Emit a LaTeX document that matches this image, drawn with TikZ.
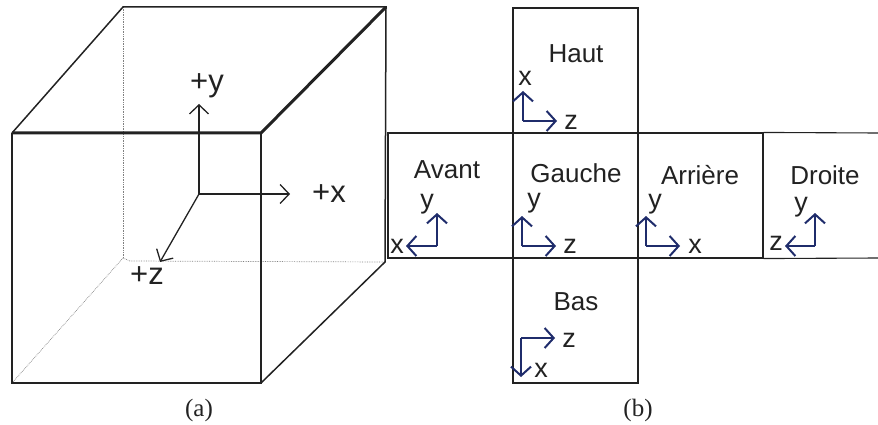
\documentclass[tikz,border=0pt]{standalone}
\usepackage{fontspec}
\setmainfont{Liberation Serif}
\setsansfont{Liberation Sans}
\usetikzlibrary{arrows.meta}
\definecolor{axisblue}{HTML}{1F2C6B}
\definecolor{inkgray}{HTML}{222222}

\begin{document}
\begin{tikzpicture}[
x=1pt, y=-1pt,
edge/.style={draw=inkgray, line width=1.5pt},
heavyedge/.style={draw=inkgray, line width=3pt},
hidden/.style={draw=gray, line width=0.7pt, densely dotted},
facebox/.style={draw=inkgray, line width=1.1pt, minimum size=125pt, inner sep=0pt},
facename/.style={font=\sffamily\fontsize{26}{26}\selectfont, text=inkgray, inner sep=0pt},
axisname/.style={font=\sffamily\fontsize{27}{27}\selectfont, text=inkgray, inner sep=0pt},
worldname/.style={font=\sffamily\fontsize{31}{31}\selectfont, text=inkgray, inner sep=0pt},
worldaxis/.style={draw=inkgray, line width=1.3pt, -{Straight Barb[length=9pt,width=19pt,line width=1.3pt]}},
localaxis/.style={draw=axisblue, line width=2pt, -{Straight Barb[length=9pt,width=20pt,line width=2pt]}},
caption/.style={font=\rmfamily\fontsize{25}{25}\selectfont, text=inkgray, inner sep=0pt},
]
\useasboundingbox (0,0) rectangle (878,425);

% cube
\coordinate (frontTL) at (12,133);
\coordinate (frontTR) at (261,133);
\coordinate (frontBL) at (12,383);
\coordinate (frontBR) at (261,383);
\coordinate (backTL) at (123,7);
\coordinate (backTR) at (386,7);
\coordinate (backBL) at (123,258);
\coordinate (backBR) at (385,262);

\draw[hidden] (backTL) -- (backBL);
\draw[hidden] (backBL) -- (frontBL);
\draw[hidden] (backBL) -- (130,261) -- (backBR);

\draw[edge] (frontTL) -- (frontBL) -- (frontBR) -- (frontTR);
\draw[edge] (frontTL) -- (backTL) -- (backTR) -- (backBR) -- (frontBR);
\draw[heavyedge] (frontTL) -- (frontTR) -- (backTR);

% world axes
\coordinate (origin) at (199,194);
\coordinate (tipY) at (199,104);
\coordinate (tipX) at (290,194);
\coordinate (tipZ) at (160,262);
\draw[worldaxis] (origin) -- (tipY);
\draw[worldaxis] (origin) -- (tipX);
\draw[worldaxis] (origin) -- (tipZ);
\node[worldname] at(207,86) (plusY) {+y};
\node[worldname] at(329,194) (plusX) {+x};
\node[worldname] at(147,276) (plusZ) {+z};

% unfolded faces
\node[facebox] at(450.5,195.5) (avant) {};
\node[facebox] at(575.5,195.5) (gauche) {};
\node[facebox] at(700.5,195.5) (arriere) {};
\node[facebox] at(575.5,70.5) (haut) {};
\node[facebox] at(575.5,320.5) (bas) {};
\coordinate (rowTop) at (878,133);
\coordinate (rowBottom) at (878,258);
\draw[draw=inkgray, line width=1.1pt] (arriere.north east) -- (rowTop);
\draw[draw=inkgray, line width=1.1pt] (arriere.south east) -- (rowBottom);

\node[facename] at(576,54) (hautname) {Haut};
\node[facename] at(447,170) (avantname) {Avant};
\node[facename] at(576,173) (gauchename) {Gauche};
\node[facename] at(700,175) (arrierename) {Arrière};
\node[facename] at(825,175) (droitename) {Droite};
\node[facename] at(576,302) (basname) {Bas};

% Haut axes
\coordinate (hautO) at (523,121);
\node[axisname] at(525,78) (hautX) {x};
\node[axisname] at(571,122) (hautZ) {z};
\draw[localaxis] (hautO) -- (523,91);
\draw[localaxis] (hautO) -- (557,121);

% Avant axes
\coordinate (avantO) at (437,246);
\node[axisname] at(427,204) (avantY) {y};
\node[axisname] at(397,246) (avantX) {x};
\draw[localaxis] (avantO) -- (437,213);
\draw[localaxis] (avantO) -- (406,246);

% Gauche axes
\coordinate (gaucheO) at (522,246);
\node[axisname] at(534,203) (gaucheY) {y};
\node[axisname] at(570,246) (gaucheZ) {z};
\draw[localaxis] (gaucheO) -- (522,216);
\draw[localaxis] (gaucheO) -- (556,246);

% Arriere axes
\coordinate (arriereO) at (646,246);
\node[axisname] at(655,204) (arriereY) {y};
\node[axisname] at(695,246) (arriereX) {x};
\draw[localaxis] (arriereO) -- (646,216);
\draw[localaxis] (arriereO) -- (680,246);

% Droite axes
\coordinate (droiteO) at (815,246);
\node[axisname] at(801,207) (droiteY) {y};
\node[axisname] at(776,243) (droiteZ) {z};
\draw[localaxis] (droiteO) -- (815,213);
\draw[localaxis] (droiteO) -- (785,246);

% Bas axes
\coordinate (basO) at (521,338);
\node[axisname] at(569,340) (basZ) {z};
\node[axisname] at(541,370) (basX) {x};
\draw[localaxis] (basO) -- (521,377);
\draw[localaxis] (basO) -- (555,338);

\node[caption] at(199,410) (capA) {(a)};
\node[caption] at(638,410) (capB) {(b)};

\end{tikzpicture}
\end{document}
